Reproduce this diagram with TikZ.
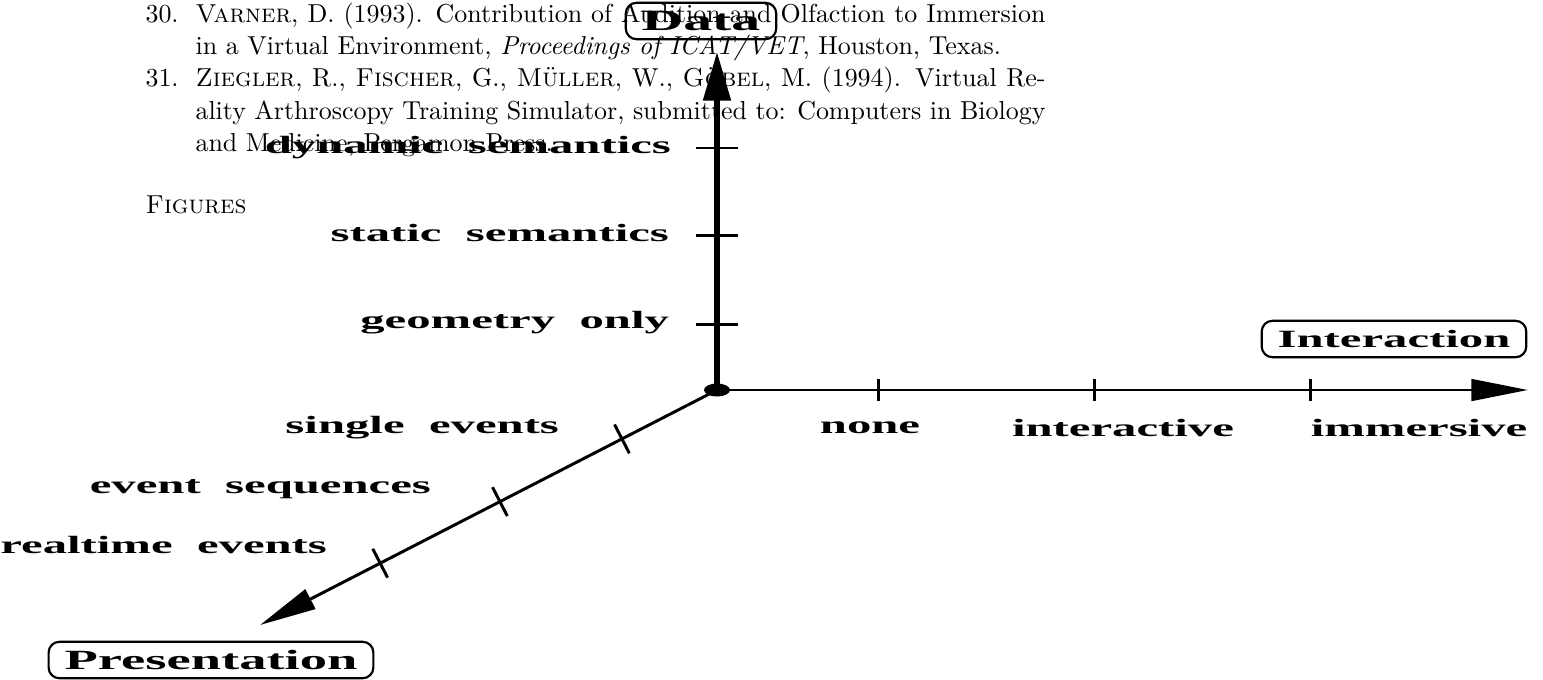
\documentclass[tikz,border=0pt]{standalone}
\usepackage{fontspec}
\newfontfamily\figfont{Liberation Serif}
\usetikzlibrary{arrows.meta,calc}

\begin{document}
\begin{tikzpicture}[
  x=0.37pt, y=-0.37pt,
  bib/.style={inner sep=0pt, text width=333pt, align=justify, font=\fontsize{9.6}{12}\selectfont},
  lab/.style={font=\figfont\bfseries\fontsize{9.2}{10}\selectfont, xscale=1.96, inner sep=0pt},
  axisbox/.style={lab, draw, line width=0.8pt, rounded corners=4pt, inner xsep=3pt, inner ysep=0pt, minimum height=13.5pt},
  axis/.style={line width=1.1pt, -{Triangle[length=21pt,width=8pt]}},
  tick/.style={line width=1.1pt}
]
\useasboundingbox (0,0) rectangle (1543,679);

% ---- page text behind the figure ----
\node[bib, anchor=north west] (refs) at (145,2) {%
\hangindent=18.5pt \hangafter=1 \noindent\makebox[18.5pt][l]{30.}\textsc{Varner}, D. (1993). Contribution of Audition and Olfaction to Immersion\linebreak in a Virtual Environment, \textit{Proceedings of ICAT/VET}, Houston, Texas.\par
\hangindent=18.5pt \hangafter=1 \noindent\makebox[18.5pt][l]{31.}\textsc{Ziegler}, R., \textsc{Fischer}, G., \textsc{Müller}, W., \textsc{Göbel}, M. (1994). Virtual Re-\linebreak ality Arthroscopy Training Simulator, submitted to: Computers in Biology\linebreak and Medicine, Pergamon Press.\par};
\node[inner sep=0pt, anchor=base west, font=\fontsize{9.6}{12}\selectfont] (figs) at (145,213) {\textsc{Figures}};

% ---- axes ----
\coordinate (o) at (717,390);
\coordinate (dtip) at (717,52);
\coordinate (itip) at (1528,390);
\coordinate (ptip) at (260,625);

\draw[axis, line width=1.9pt, -{Triangle[length=18pt,width=10pt]}] (o) -- (dtip);
\draw[axis] (o) -- (itip);
\draw[axis] (o) -- (ptip);
\fill (o) ellipse (13 and 6.5);

% ticks
\coordinate (d1) at ($(o)!0.195!(dtip)$);
\coordinate (d2) at ($(o)!0.456!(dtip)$);
\coordinate (d3) at ($(o)!0.716!(dtip)$);
\draw[tick] ($(d1)+(-21,0)$) -- ($(d1)+(21,0)$);
\draw[tick] ($(d2)+(-21,0)$) -- ($(d2)+(21,0)$);
\draw[tick] ($(d3)+(-21,0)$) -- ($(d3)+(21,0)$);

\coordinate (i1) at ($(o)!0.199!(itip)$);
\coordinate (i2) at ($(o)!0.466!(itip)$);
\coordinate (i3) at ($(o)!0.732!(itip)$);
\draw[tick] ($(i1)+(0,-11)$) -- ($(i1)+(0,11)$);
\draw[tick] ($(i2)+(0,-11)$) -- ($(i2)+(0,11)$);
\draw[tick] ($(i3)+(0,-11)$) -- ($(i3)+(0,11)$);

\coordinate (p1) at ($(o)!0.208!(ptip)$);
\coordinate (p2) at ($(o)!0.475!(ptip)$);
\coordinate (p3) at ($(o)!0.737!(ptip)$);
\draw[tick] ($(p1)!6pt!90:(o)$) -- ($(p1)!6pt!-90:(o)$);
\draw[tick] ($(p2)!6pt!90:(o)$) -- ($(p2)!6pt!-90:(o)$);
\draw[tick] ($(p3)!6pt!90:(o)$) -- ($(p3)!6pt!-90:(o)$);

% ---- labels ----
\node[axisbox, font=\figfont\bfseries\fontsize{10.9}{12}\selectfont] (data) at (701,21) {Data};
\node[lab, anchor=mid east] (dyn) at (672,148) {dynamic~~semantics};
\node[lab, anchor=mid east] (stat) at (670,236) {static~~semantics};
\node[lab, anchor=mid east] (geom) at (670,323) {geometry~~only};

\node[axisbox] (inter) at (1394,339) {Interaction};
\node[lab] (none) at (870,428) {none};
\node[lab] (interactive) at (1123,428) {interactive};
\node[lab] (immersive) at (1419,428) {immersive};

\node[lab, anchor=mid east] (single) at (560,428) {single~~events};
\node[lab, anchor=mid east] (seq) at (432,488) {event~~sequences};
\node[lab, anchor=mid east] (realtime) at (328,548) {realtime~~events};
\node[axisbox, font=\figfont\bfseries\fontsize{10.3}{12}\selectfont] (pres) at (211,660) {Presentation};
\end{tikzpicture}
\end{document}
